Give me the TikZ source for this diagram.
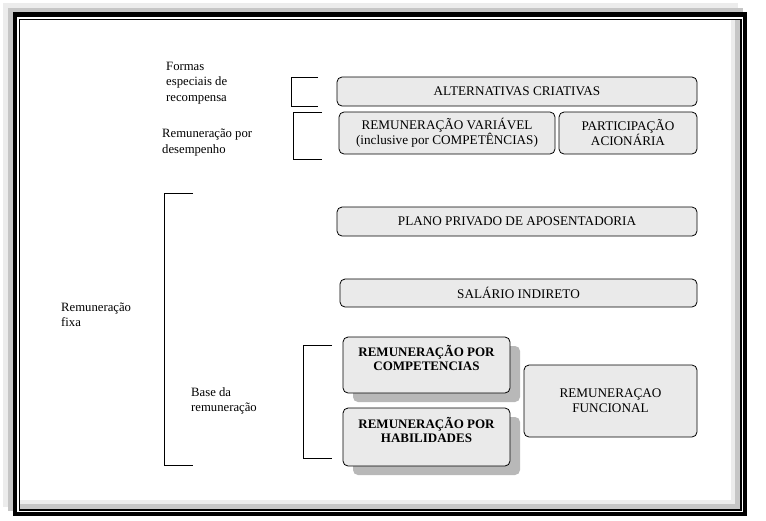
\documentclass[tikz,border=0pt]{standalone}
\usepackage{fontspec}
\setmainfont{Liberation Serif}
\usetikzlibrary{shadows}
\definecolor{boxgray}{HTML}{EAEAEA}
\definecolor{shadegray}{HTML}{B8B8B8}
\begin{document}
\begin{tikzpicture}[x=1pt, y=-1pt,
    every node/.style={font=\fontsize{13.2}{15}\selectfont},
    box/.style={draw, line width=0.8pt, rounded corners=5pt, fill=boxgray, align=center, inner sep=0pt},
    boldbox/.style={box, font=\fontsize{13}{14}\selectfont\bfseries,
        drop shadow={shadow xshift=10pt, shadow yshift=-9pt, fill=shadegray, opacity=1}},
    label/.style={align=left, anchor=west, inner sep=0pt, font=\fontsize{12.7}{15.5}\selectfont},
    bracket/.style={line width=0.8pt}]
                \useasboundingbox (0,0) rectangle (766,520);
                \fill[white] (0,0) rectangle (766,520);
                % frame
                \fill[gray!15] (3,3) rectangle (738,507);
                \fill[gray!45] (8,8) rectangle (743,511);
                \fill[black] (13,12) rectangle (747,516);
                \fill[white] (17,17) rectangle (743,512);
                \fill[gray!15] (731,20) rectangle (740,509);
                \fill[gray!15] (20,500) rectangle (740,509);
                \fill[gray!45] (735,20) rectangle (740,509);
                \fill[gray!45] (20,504) rectangle (740,509);
                \draw[line width=1.2pt] (19.5,19.5) rectangle (741,510);
                % labels
                \node[label] (formas) at (166,83) {Formas\\especiais de\\recompensa};
                \node[label] (desemp) at (162,142.5) {Remunera\c{c}\~ao por\\desempenho};
                \node[label] (fixa) at (61,315) {Remunera\c{c}\~ao\\fixa};
                \node[label] (base) at (191,401) {Base da\\remunera\c{c}\~ao};
                % brackets
                \draw[bracket] (318,77) -- (291,77) -- (291,106) -- (318,106);
                \draw[bracket] (322,112) -- (293,112) -- (293,159) -- (322,159);
                \draw[bracket] (193,193) -- (164,193) -- (164,465) -- (193,465);
                \draw[bracket] (332,345) -- (303,345) -- (303,458) -- (332,458);
                % boxes
                \node[box, minimum width=360, minimum height=29] (alt) at (517,91.5) {ALTERNATIVAS CRIATIVAS};
                \node[box, minimum width=216, minimum height=42] (var) at (447,133) {REMUNERA\c{C}\~AO VARI\'AVEL\\(inclusive por COMPET\^ENCIAS)};
                \node[box, minimum width=138, minimum height=42] (part) at (628,133) {PARTICIPA\c{C}\~AO\\ACION\'ARIA};
                \node[box, minimum width=360, minimum height=29] (plano) at (517,221.5) {PLANO PRIVADO DE APOSENTADORIA};
                \node[box, minimum width=357, minimum height=28] (salario) at (518.5,293) {SAL\'ARIO INDIRETO};
                \node[boldbox, minimum width=167, minimum height=56, text depth=14pt] (comp) at (426.5,365) {REMUNERA\c{C}\~AO POR\\COMPETENCIAS};
                \node[boldbox, minimum width=167, minimum height=58, text depth=14pt] (hab) at (426.5,437) {REMUNERA\c{C}\~AO POR\\HABILIDADES};
                \node[box, minimum width=173, minimum height=72] (func) at (610.5,401) {REMUNERA\c{C}AO\\FUNCIONAL};
            \end{tikzpicture}
\end{document}
